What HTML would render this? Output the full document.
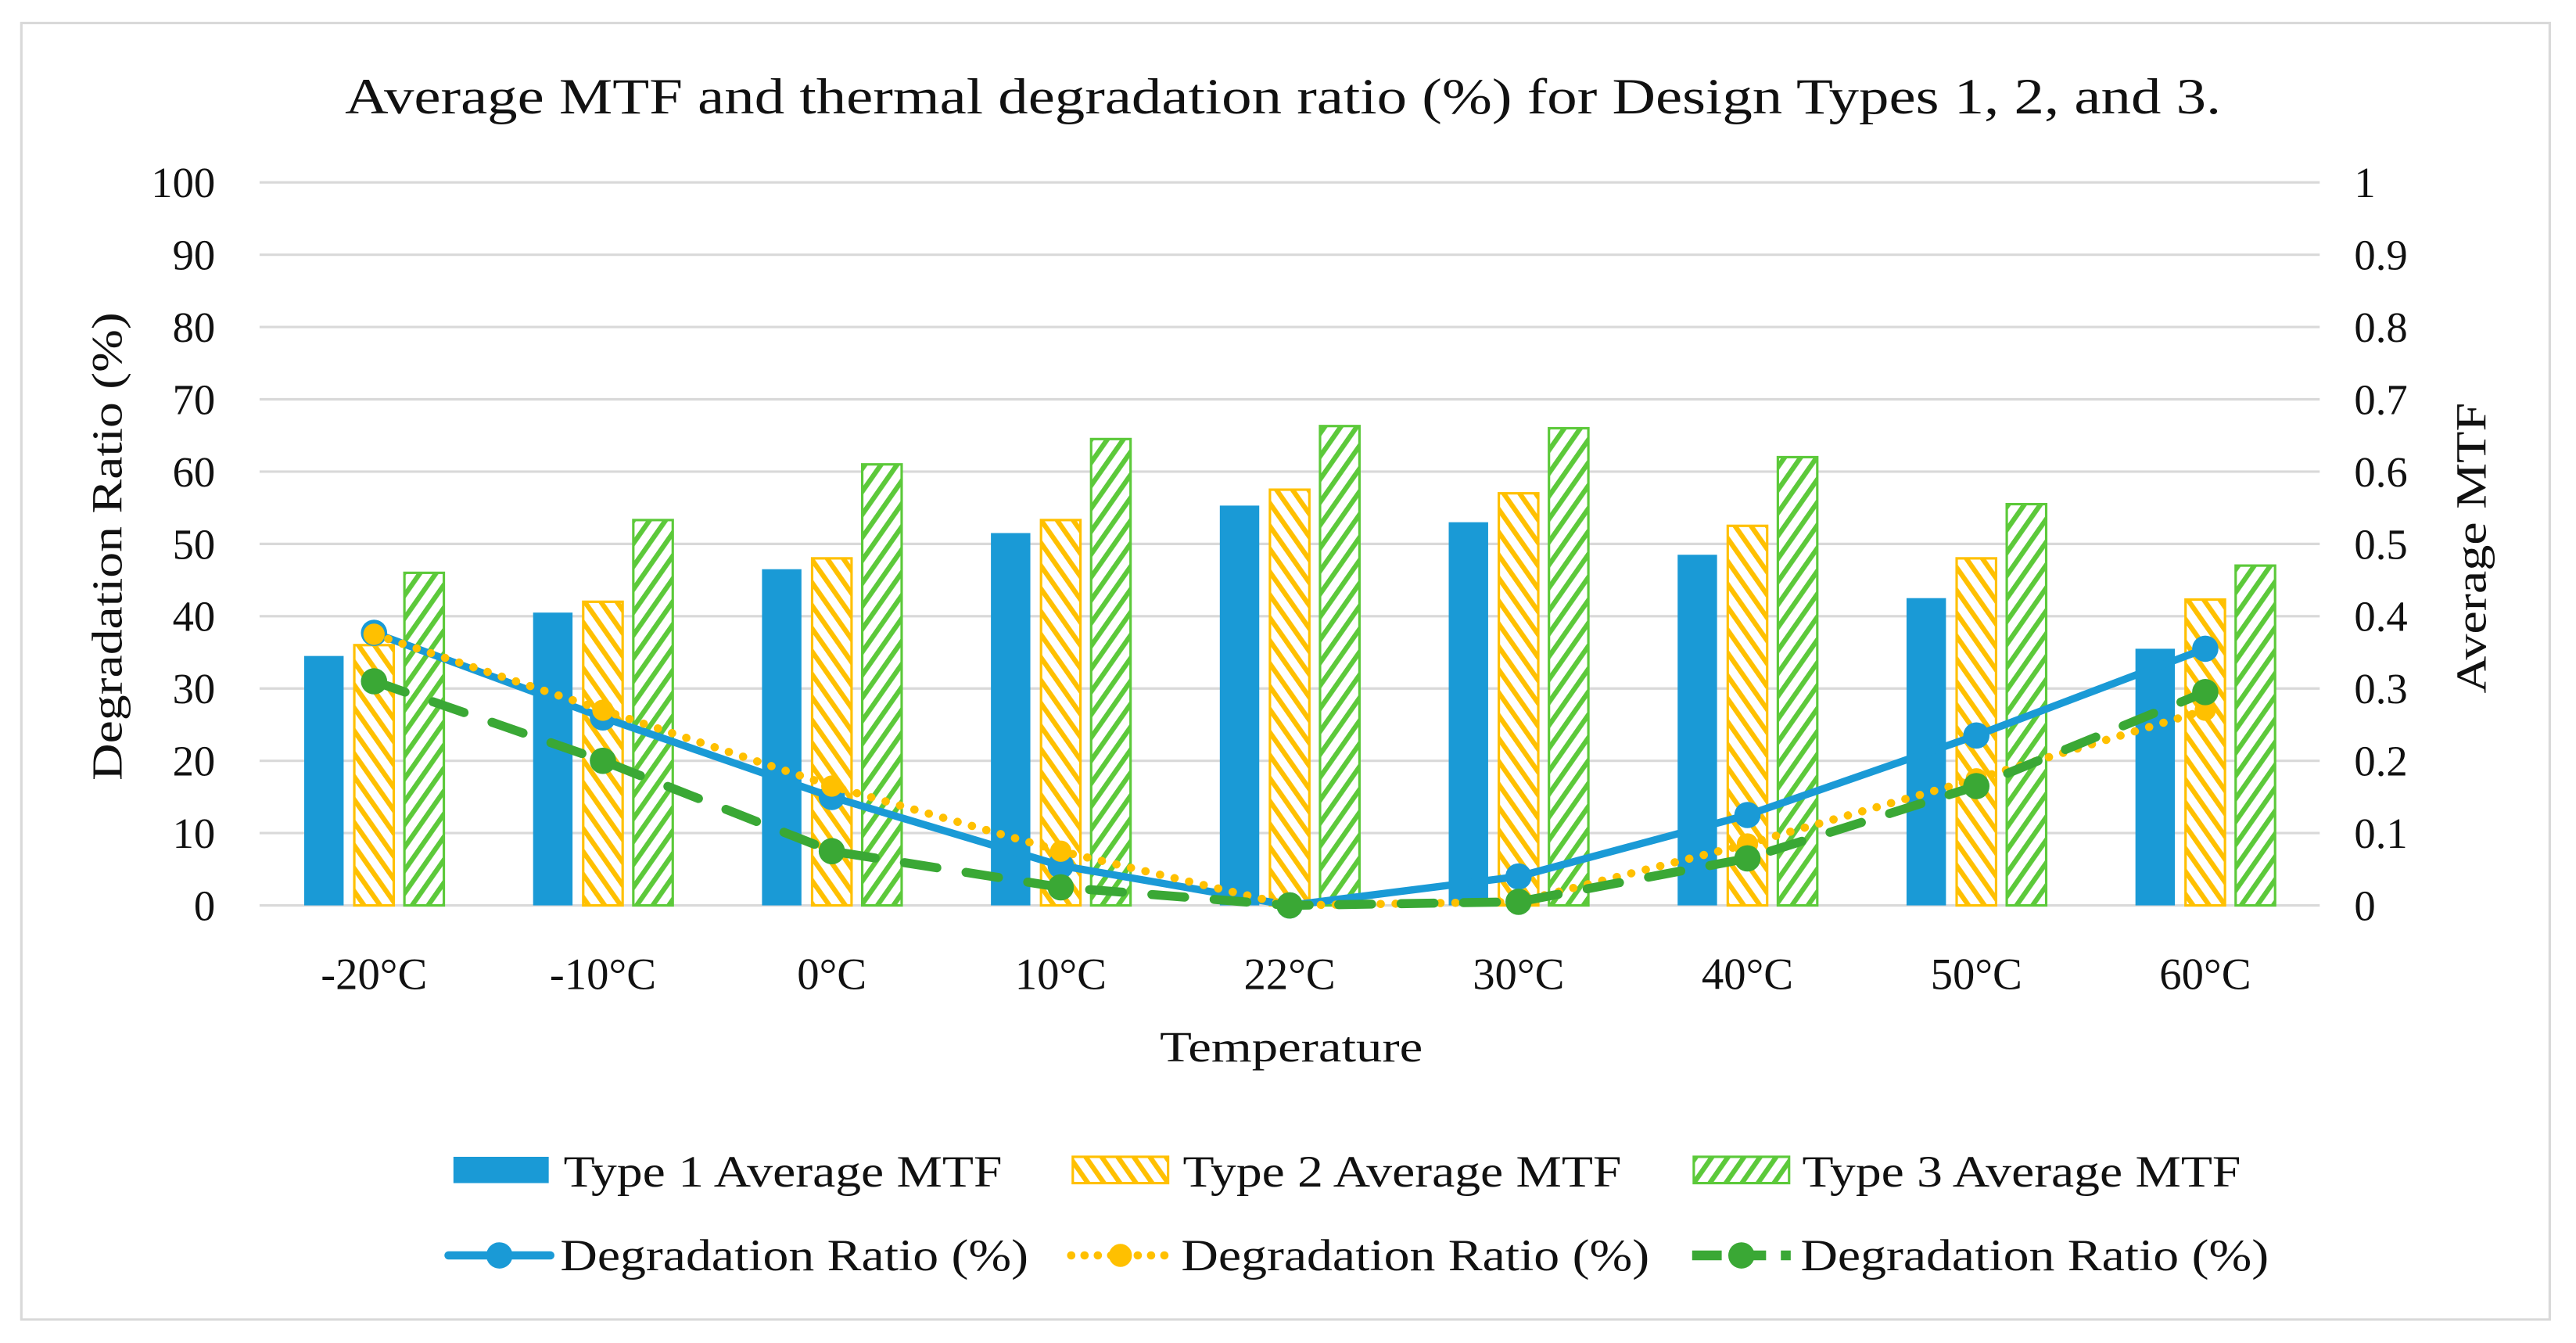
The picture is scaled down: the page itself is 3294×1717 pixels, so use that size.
<!DOCTYPE html>
<html><head><meta charset="utf-8"><style>
html,body{margin:0;padding:0;background:#fff}
svg{display:block}
text{font-family:"Liberation Serif",serif;fill:#111}
</style></head><body>
<svg id="chart" width="3294" height="1717" viewBox="0 0 1568 817.3" xmlns="http://www.w3.org/2000/svg">
<defs>
<pattern id="hatchY" patternUnits="userSpaceOnUse" width="8" height="8" patternTransform="rotate(-35)">
<rect width="8" height="8" fill="#fff"/><rect x="0" y="0" width="3" height="8" fill="#ffc000"/></pattern>
<pattern id="hatchG" patternUnits="userSpaceOnUse" width="8" height="8" patternTransform="rotate(35)">
<rect width="8" height="8" fill="#fff"/><rect x="0" y="0" width="3" height="8" fill="#5cc93a"/></pattern>
</defs>
<rect x="13" y="14" width="1539" height="789" fill="#fff" stroke="#d9d9d9" stroke-width="1.5"/>
<text x="210" y="69" font-size="31" textLength="1142" lengthAdjust="spacingAndGlyphs">Average MTF and thermal degradation ratio (%) for Design Types 1, 2, and 3.</text>
<g id="grid"></g>
<g id="bars"></g>
<g id="lines"></g>
<text transform="translate(74,475) rotate(-90)" font-size="26" textLength="285" lengthAdjust="spacingAndGlyphs">Degradation Ratio (%)</text>
<text transform="translate(1513,422) rotate(-90)" font-size="26" textLength="177" lengthAdjust="spacingAndGlyphs">Average  MTF</text>
<text x="706" y="646" font-size="26" textLength="160" lengthAdjust="spacingAndGlyphs">Temperature</text>
<g font-size="27">
<rect x="276" y="704" width="58" height="16" fill="#1a9ad6"/>
<text x="343" y="722" textLength="267" lengthAdjust="spacingAndGlyphs">Type 1 Average MTF</text>
<rect x="653" y="704" width="58" height="16" fill="url(#hatchY)" stroke="#ffc000" stroke-width="1.5"/>
<text x="720" y="722" textLength="267" lengthAdjust="spacingAndGlyphs">Type 2 Average MTF</text>
<rect x="1031" y="704" width="58" height="16" fill="url(#hatchG)" stroke="#5cc93a" stroke-width="1.5"/>
<text x="1097" y="722" textLength="267" lengthAdjust="spacingAndGlyphs">Type 3 Average MTF</text>
<line x1="273" y1="764" x2="335" y2="764" stroke="#1a9ad6" stroke-width="5" stroke-linecap="round"/>
<circle cx="304" cy="764" r="8" fill="#1a9ad6"/>
<text x="341" y="773" textLength="285" lengthAdjust="spacingAndGlyphs">Degradation Ratio (%)</text>
<line x1="652" y1="764" x2="712" y2="764" stroke="#ffc000" stroke-width="5" stroke-dasharray="0.1 8" stroke-linecap="round"/>
<circle cx="682" cy="764" r="7" fill="#ffc000"/>
<text x="719" y="773" textLength="285" lengthAdjust="spacingAndGlyphs">Degradation Ratio (%)</text>
<line x1="1030" y1="764" x2="1090" y2="764" stroke="#3aa835" stroke-width="6" stroke-dasharray="18 9"/>
<circle cx="1060" cy="764" r="8" fill="#3aa835"/>
<text x="1096" y="773" textLength="285" lengthAdjust="spacingAndGlyphs">Degradation Ratio (%)</text>
</g>
</svg>
<script>
const categories = ["-20°C","-10°C","0°C","10°C","22°C","30°C","40°C","50°C","60°C"];
const type1MTF = [0.345,0.405,0.465,0.515,0.553,0.530,0.485,0.425,0.355];
const type2MTF = [0.360,0.420,0.480,0.533,0.575,0.570,0.525,0.480,0.423];
const type3MTF = [0.460,0.533,0.610,0.645,0.663,0.660,0.620,0.555,0.470];
const deg1 = [37.7,26,15,5.5,0,4,12.5,23.5,35.5];
const deg2 = [37.5,27,16.5,7.5,0,0.5,8.5,17.5,27];
const deg3 = [31,20,7.5,2.5,0,0.5,6.5,16.5,29.5];
const leftTicks = [0,10,20,30,40,50,60,70,80,90,100];
const rightTicks = ["0","0.1","0.2","0.3","0.4","0.5","0.6","0.7","0.8","0.9","1"];

const NS="http://www.w3.org/2000/svg";
const X0=158, X1=1412, Y0=551, Y1=111;
const step=(X1-X0)/categories.length;
const xc=i=>X0+step*(i+0.5);
const yL=v=>Y0-(v/100)*(Y0-Y1);
const yR=v=>Y0-v*(Y0-Y1);
function mk(tag,attrs,parent){const e=document.createElementNS(NS,tag);for(const k in attrs)e.setAttribute(k,attrs[k]);parent.appendChild(e);return e;}
const grid=document.getElementById('grid'), bars=document.getElementById('bars'), lines=document.getElementById('lines');
leftTicks.forEach((t,i)=>{
  const l=mk('line',{x1:X0,x2:X1,y1:yL(t),y2:yL(t),stroke:'#d9d9d9','stroke-width':1.5},grid);
  
  
  const a=mk('text',{x:131,y:yL(t)+9,'font-size':26,'text-anchor':'end'},grid);a.textContent=t;
  
  
  const b=mk('text',{x:1433,y:yR(i/10)+9,'font-size':26},grid);b.textContent=rightTicks[i];
  
  
});
categories.forEach((c,i)=>{
  const t=mk('text',{x:xc(i),y:602,'font-size':27,'text-anchor':'middle'},grid);t.textContent=c;
  
  
});
const bw=24, gap=6.5;
const series=[[type1MTF,'#1a9ad6','#1a9ad6','bar-type1'],[type2MTF,'url(#hatchY)','#ffc000','bar-type2'],[type3MTF,'url(#hatchG)','#5cc93a','bar-type3']];
series.forEach((s,k)=>{
  s[0].forEach((v,i)=>{
    const x=xc(i)+(k-1)*(bw+gap)-bw/2;
    const r=mk('rect',{x:x,y:yR(v),width:bw,height:Y0-yR(v),fill:s[1],stroke:s[2],'stroke-width':k?1.5:0},bars);
    
    
  });
});
const lineSeries=[[deg1,'#1a9ad6','',4.5,8,'line-deg1'],[deg2,'#ffc000','0.1 9',5,6.5,'line-deg2'],[deg3,'#3aa835','20 18',5.5,8,'line-deg3']];
lineSeries.forEach(s=>{
  const pts=s[0].map((v,i)=>xc(i)+','+yL(v)).join(' ');
  const p=mk('polyline',{points:pts,fill:'none',stroke:s[1],'stroke-width':s[3],'stroke-dasharray':s[2],'stroke-linecap':'round'},lines);
  
  
  s[0].forEach((v,i)=>{
    const m=mk('circle',{cx:xc(i),cy:yL(v),r:s[4],fill:s[1]},lines);
    
    
  });
});
</script>
</body></html>
